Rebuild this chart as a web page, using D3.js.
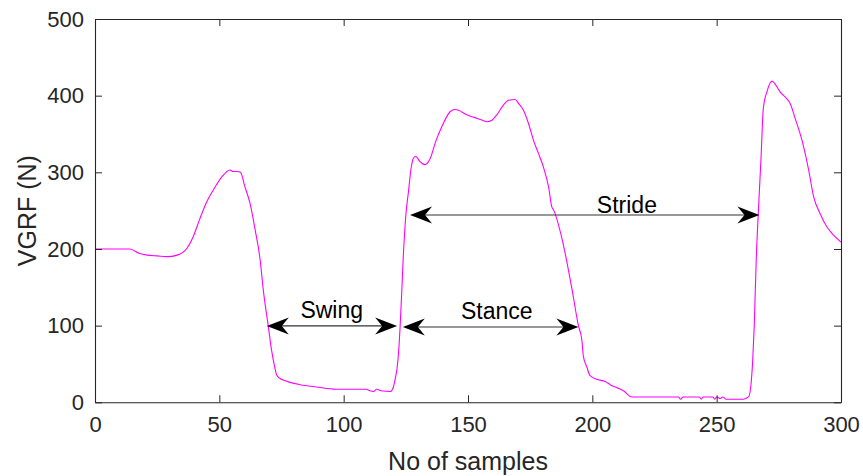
<!DOCTYPE html>
<html>
<head>
<meta charset="utf-8">
<script src="https://cdn.jsdelivr.net/npm/d3@7"></script>
<style>
  html, body { margin: 0; padding: 0; background: #fff; }
  text { font-family: "Liberation Sans", Arial, Helvetica, sans-serif; }
</style>
</head>
<body>
<svg id="chart" width="863" height="476"></svg>
<script>
// ---- data ----
const sampleX = [0, 14, 18, 21, 25, 29, 33, 37, 39.5, 42, 45, 47.6, 51, 54.3, 55.5, 57, 58.5, 60.3, 62.3, 64.4, 66.4, 67.7, 69.7, 71, 72.4, 73, 74.4, 75.7, 78.4, 82.5, 89, 97, 109, 110.5, 112, 113.3, 115, 118.7, 120, 120.7, 121.5, 122.3, 122.7, 123.3, 123.9, 125, 126.1, 127.1, 128, 128.9, 130.7, 132.7, 134.8, 137, 139.4, 142.8, 144.8, 146.2, 149.5, 152.2, 154.9, 157.6, 159.6, 161.6, 164.3, 166.3, 169, 170.3, 172.3, 174.3, 176.3, 178.3, 180.3, 182.4, 183.7, 184.4, 187.9, 191.9, 194.4, 195.8, 196.4, 197.9, 199, 201.8, 205.2, 207.2, 209.9, 212.5, 215.9, 234.6, 235.5, 236.5, 243, 243.8, 244.6, 248.5, 249.2, 250, 251.5, 252.5, 253.8, 255, 260.8, 262.8, 263.7, 264.5, 265.1, 265.9, 266.8, 267.8, 268.8, 270.2, 272.2, 273.3, 275.5, 278.2, 279.5, 281.6, 284.3, 287, 289, 291.6, 294.3, 297, 300];
const vgrf    = [200, 200, 194, 192, 191, 190, 192, 201, 216, 238, 262, 277, 294, 303, 301, 301, 300, 281, 260, 225, 186, 146, 99, 68, 44, 36, 31, 29, 26, 23, 20, 17, 17, 15, 14, 17, 15, 14, 20, 30, 45, 75, 99, 140, 185, 244, 276, 305, 318, 321, 314, 310, 318, 340, 359, 379, 382, 381, 375, 372, 369, 366, 368, 375, 388, 394, 395, 390, 381, 364, 342, 325, 307, 281, 255, 251, 212, 146, 100, 81, 60, 45, 35, 30, 27, 23, 19, 15, 7, 7, 4, 7, 7, 4, 7, 7, 4, 7, 5, 7, 4, 4, 4, 7, 20, 55, 99, 185, 251, 316, 385, 405, 419, 416, 405, 396, 390, 370, 342, 303, 268, 246, 229, 218, 209];

const xTicks = [0, 50, 100, 150, 200, 250, 300];
const yTicks = [0, 100, 200, 300, 400, 500];

// annotations: double-headed arrows (data units)
const annLabels = ["Swing", "Stance", "Stride"];
const annStart  = [69.1, 123.8, 126.7];
const annEnd    = [121.5, 194.4, 267.2];
const annY      = [99.6, 98.2, 244.3];
const annTextX  = [95.2, 161.6, 213.9];
const annTextY  = [109.5, 108.5, 246.5];

const xLabel = "No of samples";
const yLabel = "VGRF (N)";

// ---- layout ----
const svg = d3.select("#chart");
const mLeft = 95, mRight = 841, mTop = 19, mBottom = 402.3;
const axisColor = "#262626";

const x = d3.scaleLinear().domain([0, 300]).range([mLeft, mRight]);
const y = d3.scaleLinear().domain([0, 500]).range([mBottom, mTop]);

// curve
const pts = sampleX.map((d, i) => [d, vgrf[i]]);
svg.append("path")
  .datum(pts)
  .attr("fill", "none")
  .attr("stroke", "#ff00ff")
  .attr("stroke-width", 1.1)
  .attr("stroke-linejoin", "round")
  .attr("d", d3.line().curve(d3.curveMonotoneX).x(d => x(d[0])).y(d => y(d[1])));

// axes
const tickLen = 7;

const bottomAxis = d3.axisBottom(x).tickValues(xTicks).tickSizeInner(-tickLen).tickSizeOuter(0).tickPadding(14).tickFormat(d3.format("d"));
const topAxis = d3.axisTop(x).tickValues(xTicks).tickSizeInner(-tickLen).tickSizeOuter(0).tickFormat("");
const leftAxis = d3.axisLeft(y).tickValues(yTicks).tickSizeInner(-tickLen).tickSizeOuter(0).tickPadding(11).tickFormat(d3.format("d"));
const rightAxis = d3.axisRight(y).tickValues(yTicks).tickSizeInner(-tickLen).tickSizeOuter(0).tickFormat("");

function style(g) {
  g.select(".domain").attr("stroke", axisColor).attr("stroke-width", 1.1);
  g.selectAll(".tick line").attr("stroke", axisColor).attr("stroke-width", 1);
  g.selectAll(".tick text").attr("fill", axisColor).attr("font-size", 22)
    .attr("font-family", "'Liberation Sans', Arial, sans-serif");
}

svg.append("g").attr("transform", `translate(0,${mBottom})`).call(bottomAxis).call(style)
  .selectAll(".tick text").attr("dy", "0.71em");
svg.append("g").attr("transform", `translate(0,${mTop})`).call(topAxis).call(style);
svg.append("g").attr("transform", `translate(${mLeft},0)`).call(leftAxis).call(style);
svg.append("g").attr("transform", `translate(${mRight},0)`).call(rightAxis).call(style);

// axis labels
svg.append("text")
  .attr("x", (mLeft + mRight) / 2).attr("y", 470)
  .attr("text-anchor", "middle")
  .attr("font-size", 25).attr("fill", axisColor)
  .text(xLabel);

svg.append("text")
  .attr("transform", `translate(36,${(mTop + mBottom) / 2}) rotate(-90)`)
  .attr("text-anchor", "middle")
  .attr("font-size", 25).attr("fill", axisColor)
  .text(yLabel);

// arrows
const headL = 22, headW = 17, notch = 0.68;
function headPath(tx, ty, dir) {
  const bx = tx - dir * headL, nx = tx - dir * headL * notch;
  return `M${tx},${ty} L${bx},${ty - headW / 2} L${nx},${ty} L${bx},${ty + headW / 2} Z`;
}
const ann = svg.append("g");
annLabels.forEach((lab, i) => {
  const x0 = x(annStart[i]), x1 = x(annEnd[i]), yy = y(annY[i]);
  ann.append("line")
    .attr("x1", x0 + 4).attr("x2", x1 - 4)
    .attr("y1", yy).attr("y2", yy)
    .attr("stroke", "#333").attr("stroke-width", 1.2);
  ann.append("path").attr("d", headPath(x0, yy, -1)).attr("fill", "#000");
  ann.append("path").attr("d", headPath(x1, yy, 1)).attr("fill", "#000");
  ann.append("text")
    .attr("x", x(annTextX[i])).attr("y", y(annTextY[i]))
    .attr("text-anchor", "middle")
    .attr("font-size", 23).attr("fill", "#000")
    .text(lab);
});
</script>
</body>
</html>
